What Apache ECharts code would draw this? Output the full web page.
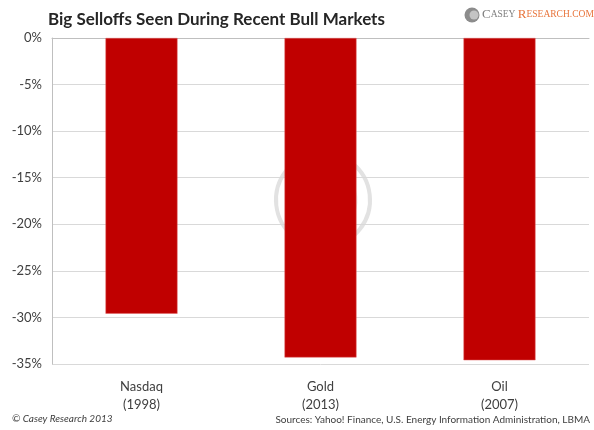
<!DOCTYPE html>
<html><head><meta charset="utf-8">
<script src="https://cdn.jsdelivr.net/npm/echarts@6/dist/echarts.min.js"></script>
<style>html,body{margin:0;padding:0;background:#fff}#c{width:594px;height:430px}</style>
</head><body><div id="c"></div>
<script>
const categories = ["Nasdaq\n(1998)", "Gold\n(2013)", "Oil\n(2007)"];
const selloffs = [-29.6, -34.3, -34.6];
const yMin = -35, yMax = 0, yStep = 5;

const chart = echarts.init(document.getElementById('c'));
const font = 'Lato, "Open Sans", sans-serif';
chart.setOption({
  animation: false,
  backgroundColor: '#fff',
  title: {
    text: 'Big Selloffs Seen During Recent Bull Markets',
    left: 43, top: 6,
    textStyle: {fontFamily: font, fontWeight: 'bold', fontSize: 17, color: '#262626'}
  },
  grid: {left: 52, right: 5, top: 38, bottom: 66},
  xAxis: [{
    type: 'category', data: categories, position: 'top',
    axisLine: {lineStyle: {color: '#bfbfbf'}},
    axisTick: {inside: true, length: 4, lineStyle: {color: '#bfbfbf'}},
    axisLabel: {show: false}
  }, {
    type: 'category', data: categories, position: 'bottom',
    axisLine: {show: false}, axisTick: {show: false},
    axisLabel: {fontFamily: font, fontSize: 13, color: '#404040', lineHeight: 18, margin: 14}
  }],
  yAxis: {
    type: 'value', min: yMin, max: yMax, interval: yStep,
    axisLine: {show: true, lineStyle: {color: '#bfbfbf'}},
    axisTick: {show: false},
    splitLine: {lineStyle: {color: '#d9d9d9'}},
    axisLabel: {formatter: v => v + '%', fontFamily: font, fontSize: 13, color: '#404040', margin: 10}
  },
  series: [{
    type: 'bar', data: selloffs, xAxisIndex: 0, barWidth: 72,
    itemStyle: {color: '#c00000', borderColor: '#e06060', borderWidth: 0.5},
    z: 3
  }],
  graphic: [
    {type: 'arc', zlevel: -1, z: -10, shape: {cx: 323, cy: 200, r: 47, startAngle: -0.9, endAngle: 4.95}, style: {stroke: '#e2e2e2', lineWidth: 4, fill: null}},
    {type: 'arc', zlevel: -1, z: -10, shape: {cx: 323, cy: 200, r: 33, startAngle: -0.9, endAngle: 4.95}, style: {stroke: '#ececec', lineWidth: 3, fill: null}},
    {type: 'circle', shape: {cx: 472, cy: 15, r: 7.5}, style: {fill: '#8c8c8c'}},
    {type: 'circle', shape: {cx: 474, cy: 15, r: 4.5}, style: {fill: '#c4c4c4'}},
    {type: 'text', left: 482, top: 8, style: {
      text: '{a|C}{b|ASEY }{c|R}{d|ESEARCH.COM}',
      rich: {
        a: {fontFamily: 'Liberation Serif', fontSize: 13, fill: '#7f7f7f'},
        b: {fontFamily: 'Liberation Serif', fontSize: 9.5, fill: '#7f7f7f'},
        c: {fontFamily: 'Liberation Serif', fontSize: 13, fill: '#e8743b'},
        d: {fontFamily: 'Liberation Serif', fontSize: 9.5, fill: '#e8743b'}
      }
    }},
    {type: 'text', left: 12, top: 414, style: {text: '© Casey Research 2013', font: 'italic 10px ' + font, fill: '#404040'}},
    {type: 'text', right: 4, top: 415, style: {text: 'Sources: Yahoo! Finance, U.S. Energy Information Administration, LBMA', font: '10px ' + font, fill: '#404040'}}
  ]
});
</script></body></html>
